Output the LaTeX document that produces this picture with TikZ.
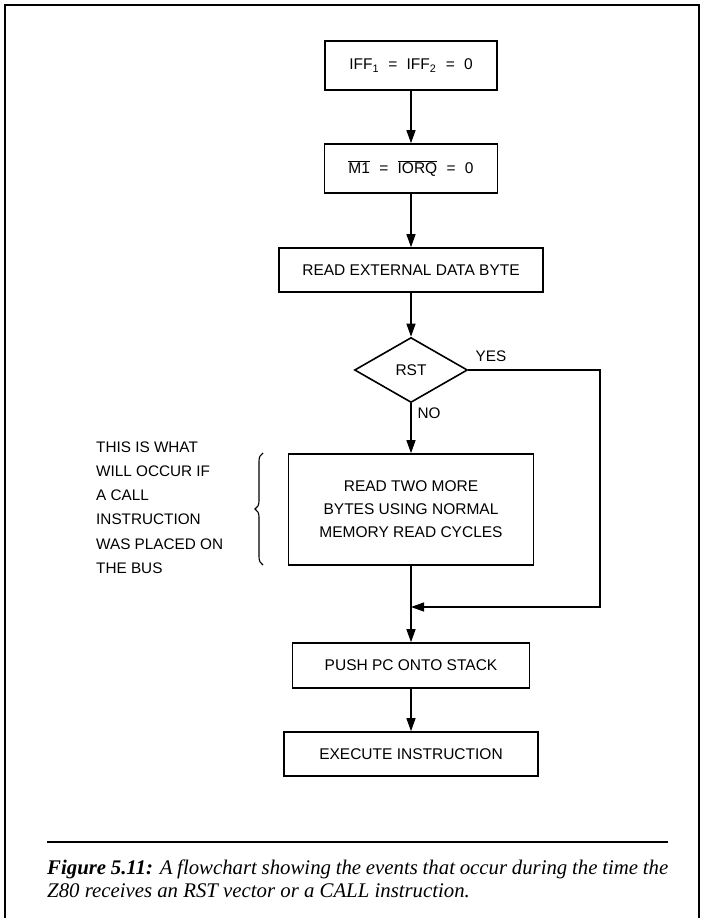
\documentclass[tikz,border=0pt]{standalone}
\usepackage{fontspec}
\setmainfont{Liberation Serif}
\newfontfamily\chartfont{Liberation Sans}
\usetikzlibrary{arrows.meta,shapes.geometric,decorations.pathreplacing}

\begin{document}
\begin{tikzpicture}[x=1pt,y=-1pt,
        box/.style={draw,line width=1.6pt,align=center,inner sep=0pt,
            font=\chartfont\fontsize{15.5}{23}\selectfont},
        arr/.style={line width=1.3pt,-{Triangle[length=13pt,width=9pt]}},
        lbl/.style={inner sep=0pt,font=\chartfont\fontsize{15.3}{24.2}\selectfont}]
        % Page size
        \useasboundingbox (0,0) rectangle (703,918);

        % Define the centre line of the chart
        \def\cx{411}
        \def\gap{\hspace{0.6em}}

        % Frame round the figure
        \draw[line width=2.6pt] (5,918) -- (5,5) -- (699,5) -- (699,918);

        % The boxes
        \node[box,minimum width=172,minimum height=49] (iff) at (\cx,65.5)
            {IFF\textsubscript{1}\gap=\gap IFF\textsubscript{2}\gap=\gap0};
        \node[box,minimum width=173,minimum height=49] (mone) at (\cx,168.5)
            {$\overline{\mbox{M1}}$\gap=\gap$\overline{\mbox{IORQ}}$\gap=\gap0};
        \node[box,minimum width=264,minimum height=44] (readbyte) at (\cx,270)
            {READ EXTERNAL DATA BYTE};
        \node[box,diamond,minimum width=113,minimum height=65,aspect=1.74] (rst) at (\cx,370)
            {RST};
        \node[box,minimum width=245,minimum height=111] (more) at (\cx,509.5)
            {READ TWO MORE\\BYTES USING NORMAL\\MEMORY READ CYCLES};
        \node[box,minimum width=237,minimum height=45] (push) at (\cx,665.5)
            {PUSH PC ONTO STACK};
        \node[box,minimum width=254,minimum height=44] (exec) at (\cx,754)
            {EXECUTE INSTRUCTION};

        % Branch labels
        \node[lbl] (yes) at (491,356) {YES};
        \node[lbl] (no) at (429,413) {NO};

        % Arrows down the chart
        \draw[arr] (iff) -- (mone);
        \draw[arr] (mone) -- (readbyte);
        \draw[arr] (readbyte) -- (rst);
        \draw[arr] (rst) -- (more);
        \draw[arr] (more) -- (push);
        \draw[arr] (push) -- (exec);

        % The YES branch goes round the box
        \coordinate (corner) at (600,607);
        \coordinate (join) at (\cx,607);
        \draw[arr] (rst.east) -| (corner) -- (join);

        % Note on the left with its brace
        \node[lbl,anchor=west,align=left] (note) at (96,507.5)
            {THIS IS WHAT\\WILL OCCUR IF\\A CALL\\INSTRUCTION\\WAS PLACED ON\\THE BUS};
        \draw[line width=1.1pt,decorate,decoration={brace,amplitude=8pt}]
            (263,565) -- (263,453);

        % Caption
        \draw[line width=1.3pt] (47,842) -- (668,842);
        \node[anchor=north west,text width=621,align=justify,inner sep=0pt,
            font=\fontsize{20.8}{22.5}\selectfont] (caption) at (47,860)
            {\textbf{\textit{Figure 5.11:}} \textit{A flowchart showing the events that
            occur during the time the\linebreak Z80 receives an RST vector or a CALL instruction.}};
\end{tikzpicture}
\end{document}
